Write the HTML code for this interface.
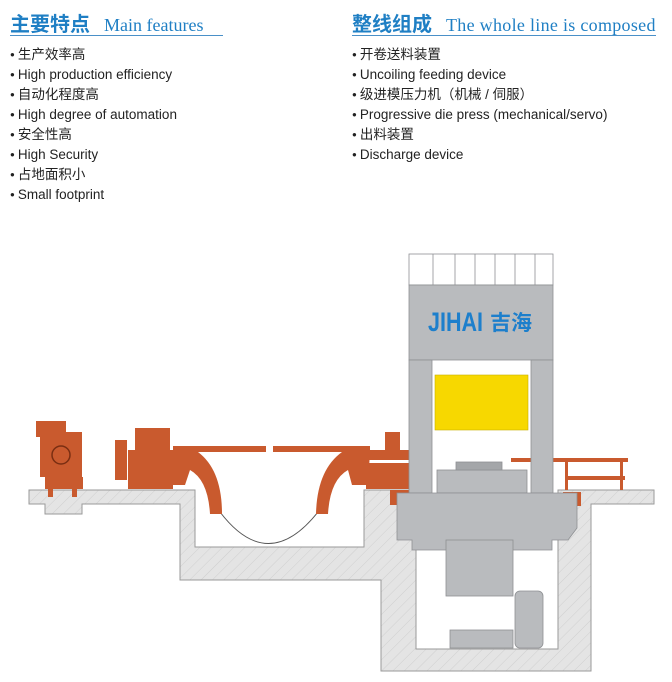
<!DOCTYPE html>
<html><head><meta charset="utf-8">
<style>
*{margin:0;padding:0}
body{width:672px;height:682px;background:#fff;position:relative;overflow:hidden;font-family:"Liberation Sans","Noto Sans CJK SC",sans-serif}
.t{position:absolute;top:8px;color:#1f7fc4;white-space:nowrap}
.t b{font-family:"Liberation Sans","Noto Sans CJK SC",sans-serif;font-size:20px;font-weight:bold}
.t span{font-family:"Liberation Serif","Noto Serif CJK SC",serif;font-size:18px;margin-left:14px}
.ul{position:absolute;top:35px;height:1px;background:#4a90c8}
ul{position:absolute;top:45px;list-style:none;font-size:13.5px;color:#222}
ul li{height:20px;line-height:20px;white-space:nowrap}
ul li:before{content:"●";font-size:8px;margin-right:3px;position:relative;top:-2px}
</style></head><body>
<div class="t" style="left:10px"><b>主要特点</b><span>Main features</span></div>
<div class="ul" style="left:10px;width:213px"></div>
<div class="t" style="left:352px"><b>整线组成</b><span style="letter-spacing:0.3px">The whole line is composed</span></div>
<div class="ul" style="left:352px;width:304px"></div>
<ul style="left:10px">
<li>生产效率高</li><li>High production efficiency</li><li>自动化程度高</li><li>High degree of automation</li><li>安全性高</li><li>High Security</li><li>占地面积小</li><li>Small footprint</li></ul>
<ul style="left:352px">
<li>开卷送料装置</li><li>Uncoiling feeding device</li><li>级进模压力机（机械 / 伺服）</li><li>Progressive die press (mechanical/servo)</li><li>出料装置</li><li>Discharge device</li></ul>

<svg width="672" height="682" style="position:absolute;left:0;top:0">
<defs><pattern id="h" width="8" height="8" patternUnits="userSpaceOnUse" patternTransform="rotate(45)"><rect width="8" height="8" fill="#e4e4e4"/><line x1="0" y1="0" x2="0" y2="8" stroke="#cfcfcf" stroke-width="1"/></pattern></defs>
<path d="M29,490 H195 V547 H364 V490 H416 V649 H558 V490 H654 V504 H591 V671 H381 V580 H180 V504 H82 V514 H45 V504 H29 Z" fill="url(#h)" stroke="#9a9a9a" stroke-width="1"/>
<path d="M220,512 Q268,575 318,512" fill="none" stroke="#555" stroke-width="1"/>
<g fill="#c95a2e">
<rect x="40" y="432" width="42" height="45"/>
<rect x="36" y="421" width="30" height="16"/>
<rect x="45" y="477" width="38" height="12"/>
<rect x="48" y="489" width="5" height="8"/><rect x="72" y="489" width="5" height="8"/>
<rect x="128" y="450" width="45" height="39"/>
<rect x="115" y="440" width="12" height="40"/>
<rect x="135" y="428" width="35" height="22"/>
<rect x="173" y="446" width="93" height="6"/>
<rect x="273" y="446" width="97" height="6"/>
<path d="M173,452 H198 Q222,470 222,514 H210 Q208,480 190,470 L185,485 H173 Z"/>
<path d="M370,452 H342 Q317,470 316,514 H328 Q330,480 348,470 L352,485 H368 Z"/>
<rect x="366" y="450" width="45" height="10"/>
<rect x="366" y="463" width="45" height="26"/>
<rect x="385" y="432" width="15" height="20"/>
<rect x="390" y="490" width="20" height="15"/>
<rect x="511" y="458" width="117" height="4"/>
<rect x="565" y="476" width="60" height="4"/>
<rect x="565" y="458" width="3" height="32"/><rect x="620" y="458" width="3" height="32"/>
<rect x="563" y="492" width="18" height="14"/>
</g>
<circle cx="61" cy="455" r="9" fill="none" stroke="#7a2e12" stroke-width="1.5"/>
<g fill="#b9bbbe" stroke="#8e9093" stroke-width="0.8">
<rect x="409" y="254" width="144" height="31" fill="#fff"/>
<rect x="409" y="285" width="144" height="75"/>
<rect x="409" y="360" width="23" height="133"/>
<rect x="531" y="360" width="22" height="133"/>
<rect x="437" y="470" width="90" height="23"/>
<rect x="456" y="462" width="46" height="8" fill="#a4a6a9"/>
<path d="M397,493 H577 V528 L568,540 H552 V550 H412 V540 H397 Z"/>
<rect x="446" y="540" width="67" height="56"/>
<rect x="515" y="591" width="28" height="57" rx="5"/>
<rect x="450" y="630" width="63" height="18"/>
</g>
<g stroke="#8e9093" stroke-width="0.8">
<line x1="433" y1="254" x2="433" y2="285"/><line x1="455" y1="254" x2="455" y2="285"/><line x1="475" y1="254" x2="475" y2="285"/><line x1="495" y1="254" x2="495" y2="285"/><line x1="515" y1="254" x2="515" y2="285"/><line x1="535" y1="254" x2="535" y2="285"/>
</g>
<rect x="435" y="375" width="93" height="55" fill="#f7d800" stroke="#c9b000" stroke-width="0.6"/>
<text x="428" y="331" font-family="Liberation Sans Narrow,Liberation Sans,sans-serif" font-weight="bold" font-size="27" fill="#1d7fcc" textLength="55" lengthAdjust="spacingAndGlyphs">JIHAI</text>
<text x="490" y="330" font-family="Noto Sans CJK SC,sans-serif" font-weight="bold" font-size="21" fill="#1d7fcc">吉海</text>
</svg>
</body></html>
